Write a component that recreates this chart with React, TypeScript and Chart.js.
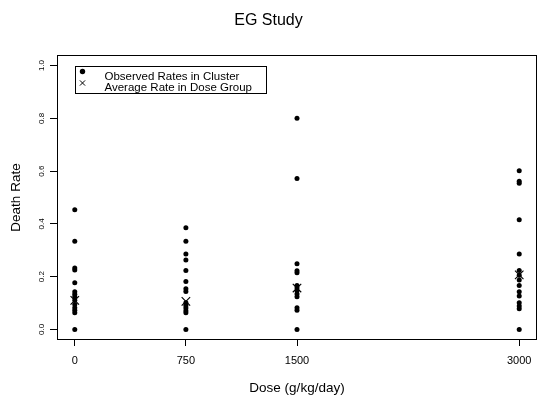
import React, { useEffect, useRef } from 'react';
import { Chart, registerables } from 'chart.js';

Chart.register(...registerables);

// ---- data ----
const doses = [0, 750, 1500, 3000];
const ratesDose0 = [0.454, 0.334, 0.233, 0.225, 0.177, 0.143, 0.133, 0.124, 0.111, 0.095, 0.082, 0.073, 0.063, 0];
const ratesDose750 = [0.385, 0.334, 0.286, 0.263, 0.223, 0.182, 0.154, 0.144, 0.101, 0.091, 0.081, 0.071, 0.063, 0];
const ratesDose1500 = [0.8, 0.572, 0.249, 0.222, 0.215, 0.167, 0.157, 0.147, 0.134, 0.124, 0.082, 0.073, 0];
const ratesDose3000 = [0.601, 0.562, 0.554, 0.416, 0.286, 0.223, 0.205, 0.187, 0.167, 0.143, 0.127, 0.101, 0.089, 0.078, 0];
const avgRates = [0.11, 0.106, 0.157, 0.207];
const xTickValues = [0, 750, 1500, 3000];
const yTickValues = [0, 0.2, 0.4, 0.6, 0.8, 1.0];
const seriesLabels = ['Observed Rates in Cluster', 'Average Rate in Dose Group'];
const titleText = 'EG Study';
const xTitle = 'Dose (g/kg/day)';
const yTitle = 'Death Rate';

const FONT = "'Liberation Sans', Arial, Helvetica, sans-serif";

const framePlugin = {
  id: 'frame',
  afterDatasetsDraw(chart: any) {
    const { ctx, chartArea } = chart;
    ctx.save();
    ctx.strokeStyle = '#000';
    ctx.lineWidth = 1;
    ctx.strokeRect(
      Math.round(chartArea.left) + 0.5,
      Math.round(chartArea.top) + 0.5,
      Math.round(chartArea.right - chartArea.left) - 1,
      Math.round(chartArea.bottom - chartArea.top) - 1
    );
    ctx.restore();
  },
};

const boxLegendPlugin = {
  id: 'boxLegend',
  afterDraw(chart: any) {
    const { ctx, chartArea } = chart;
    const x0 = chartArea.left + 18;
    const y0 = chartArea.top + 11;
    const w = 191;
    const h = 27;
    ctx.save();
    ctx.strokeStyle = '#000';
    ctx.lineWidth = 1;
    ctx.strokeRect(Math.round(x0) + 0.5, Math.round(y0) + 0.5, w, h);
    ctx.fillStyle = '#000';
    ctx.font = `11.5px ${FONT}`;
    ctx.textBaseline = 'alphabetic';
    ctx.textAlign = 'left';
    chart.data.datasets.forEach((ds: any, i: number) => {
      const sx = x0 + 7.5;
      const sy = y0 + 5.5 + i * 11.5;
      if (ds.pointStyle === 'crossRot') {
        const r = 2.6;
        ctx.beginPath();
        ctx.moveTo(sx - r, sy - r);
        ctx.lineTo(sx + r, sy + r);
        ctx.moveTo(sx - r, sy + r);
        ctx.lineTo(sx + r, sy - r);
        ctx.stroke();
      } else {
        ctx.beginPath();
        ctx.arc(sx, sy, 2.7, 0, Math.PI * 2);
        ctx.fill();
      }
      ctx.fillText(ds.label, x0 + 29.5, y0 + 13.5 + i * 11.2);
    });
    ctx.restore();
  },
};

function pts(dose: number, vals: number[]) {
  return vals.map((v) => ({ x: dose, y: v }));
}

export default function App() {
  const ref = useRef<HTMLCanvasElement | null>(null);
  useEffect(() => {
    if (!ref.current) return;
    const observed = [
      ...pts(doses[0], ratesDose0),
      ...pts(doses[1], ratesDose750),
      ...pts(doses[2], ratesDose1500),
      ...pts(doses[3], ratesDose3000),
    ];
    const averages = doses.map((d, i) => ({ x: d, y: avgRates[i] }));
    const chart = new Chart(ref.current, {
      type: 'scatter',
      data: {
        datasets: [
          {
            label: seriesLabels[0],
            data: observed,
            pointStyle: 'circle',
            pointRadius: 2.5,
            pointBackgroundColor: '#000',
            pointBorderColor: '#000',
            pointBorderWidth: 0,
          },
          {
            label: seriesLabels[1],
            data: averages,
            pointStyle: 'crossRot',
            pointRadius: 6,
            pointBorderColor: '#000',
            pointBackgroundColor: '#000',
            pointBorderWidth: 1.1,
          },
        ],
      },
      options: {
        responsive: false,
        animation: false,
        layout: { padding: 0, autoPadding: false },
        plugins: {
          legend: { display: false },
          tooltip: { enabled: false },
          title: {
            display: true,
            text: titleText,
            color: '#000',
            font: { family: FONT, size: 16, weight: 'normal', lineHeight: 1.2 },
            padding: { top: 11.4, bottom: 24.4 },
          },
        },
        scales: {
          x: {
            type: 'linear',
            min: -120,
            max: 3120,
            afterBuildTicks: (scale: any) => {
              scale.ticks = xTickValues.map((v) => ({ value: v }));
            },
            afterFit: (scale: any) => {
              scale.height = 58;
              scale.paddingLeft = 0;
              scale.paddingRight = 0;
            },
            grid: {
              drawOnChartArea: false,
              drawTicks: true,
              tickLength: 6,
              tickColor: '#000',
              color: '#000',
            },
            border: { display: false },
            ticks: {
              color: '#000',
              font: { family: FONT, size: 11 },
              padding: 8,
              maxRotation: 0,
              autoSkip: false,
              callback: (v: any) => String(v),
            },
            title: {
              display: true,
              text: xTitle,
              color: '#000',
              font: { family: FONT, size: 13.5 },
              padding: { top: 0, bottom: 2 },
            },
          },
          y: {
            type: 'linear',
            min: -0.04,
            max: 1.04,
            afterBuildTicks: (scale: any) => {
              scale.ticks = yTickValues.map((v) => ({ value: v }));
            },
            afterFit: (scale: any) => {
              scale.width = 57;
              scale.paddingTop = 0;
              scale.paddingBottom = 0;
            },
            grid: {
              drawOnChartArea: false,
              drawTicks: true,
              tickLength: 7,
              tickColor: '#000',
              color: '#000',
            },
            border: { display: false },
            ticks: {
              color: '#000',
              font: { family: FONT, size: 8 },
              padding: 3,
              minRotation: 90,
              maxRotation: 90,
              crossAlign: 'center',
              autoSkip: false,
              callback: (v: any) => Number(v).toFixed(1),
            },
            title: {
              display: true,
              text: yTitle,
              color: '#000',
              font: { family: FONT, size: 13.5 },
              padding: { top: 8, bottom: 0 },
            },
          },
        },
      },
      plugins: [framePlugin, boxLegendPlugin],
    } as any);
    return () => chart.destroy();
  }, []);
  return (
    <div style={{ position: 'fixed', left: 0, top: 0, width: 537, height: 398, background: '#fff' }}>
      <canvas ref={ref} width={537} height={398} style={{ display: 'block' }} />
    </div>
  );
}
